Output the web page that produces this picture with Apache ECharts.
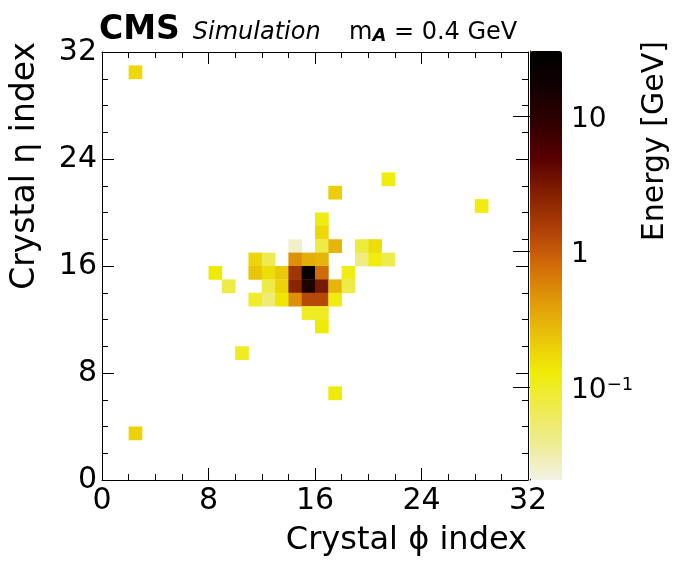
<!DOCTYPE html>
<html>
<head>
<meta charset="utf-8">
<script src="https://cdn.jsdelivr.net/npm/echarts@6/dist/echarts.min.js"></script>
<style>
html,body{margin:0;padding:0;background:#ffffff;}
#chart{width:676px;height:572px;}
</style>
</head>
<body>
<div id="chart"></div>
<script>
// ---- data (crystal phi index, crystal eta index, deposited energy in GeV) ----
const phiIndex = [2, 2, 21, 17, 28, 16, 16, 14, 16, 17, 19, 20, 11, 12, 14, 15, 16, 19, 20, 21, 8, 11, 12, 13, 14, 15, 16, 18, 9, 12, 13, 14, 15, 16, 17, 18, 11, 12, 13, 14, 15, 16, 17, 15, 16, 16, 10, 17];
const etaIndex = [30, 3, 22, 21, 20, 19, 18, 17, 17, 17, 17, 17, 16, 16, 16, 16, 16, 16, 16, 16, 15, 15, 15, 15, 15, 15, 15, 15, 14, 14, 14, 14, 14, 14, 14, 14, 13, 13, 13, 13, 13, 13, 13, 12, 12, 11, 9, 6];
const energyGeV = [0.17, 0.19, 0.12, 0.2, 0.12, 0.12, 0.17, 0.025, 0.075, 0.29, 0.08, 0.16, 0.18, 0.068, 0.49, 0.32, 0.29, 0.044, 0.12, 0.07, 0.13, 0.23, 0.16, 0.22, 1.8, 25, 0.8, 0.115, 0.075, 0.075, 0.19, 2.5, 13, 3.1, 0.29, 0.075, 0.095, 0.05, 0.14, 0.49, 1.3, 1.3, 0.12, 0.1, 0.1, 0.13, 0.1, 0.13];

// axis ranges / tick labels
const axisRange = [0, 32];
const axisTickLabels = [0, 8, 16, 24, 32];
const energyRange = [0.0204, 30.6];
const colorbarLabelValues = [0.1, 1, 10];
const colorbarMinorValues = [0.03, 0.04, 0.05, 0.06, 0.07, 0.08, 0.09, 0.2, 0.3, 0.4, 0.5, 0.6, 0.7, 0.8, 0.9, 2, 3, 4, 5, 6, 7, 8, 9, 20, 30];

// titles
const xTitle = 'Crystal \u03d5 index';
const yTitle = 'Crystal \u03b7 index';
const zTitle = 'Energy [GeV]';

// palette, low -> high energy
const paletteColors = ['#f3f2e6', '#eeec94', '#eeeb50', '#f0ec08', '#e9c40a', '#e09a08', '#d26c08', '#b04008', '#842000', '#580000', '#300000', '#120000', '#000000'];

const FONT = 'DejaVu Sans';
const logMin = Math.log10(energyRange[0]);
const logMax = Math.log10(energyRange[1]);

const cells = phiIndex.map((p, i) => [p, etaIndex[i], Math.log10(energyGeV[i])]);

const chart = echarts.init(document.getElementById('chart'), null, {renderer: 'canvas'});

function frameAxis(extra) {
  return Object.assign({
    type: 'value',
    gridIndex: 0,
    min: axisRange[0],
    max: axisRange[1],
    interval: axisTickLabels[1] - axisTickLabels[0],
    axisLine: {show: true, onZero: false, lineStyle: {color: '#000', width: 1}},
    axisTick: {show: true, inside: true, length: 12, lineStyle: {color: '#000', width: 1}},
    minorTick: {show: true, splitNumber: 4, length: 6, lineStyle: {color: '#000', width: 1}},
    splitLine: {show: false},
    minorSplitLine: {show: false},
    axisLabel: {show: false}
  }, extra);
}

const option = {
  animation: false,
  backgroundColor: '#ffffff',
  textStyle: {fontFamily: FONT, color: '#000'},
  title: [
    {
      left: 99, top: 14, padding: 0,
      text: '{cms|CMS}{sim|Simulation}',
      textStyle: {
        fontWeight: 'normal',
        rich: {
          cms: {fontFamily: FONT, fontWeight: 'bold', fontSize: 33, color: '#000', verticalAlign: 'bottom'},
          sim: {fontFamily: FONT, fontWeight: 'normal', fontStyle: 'italic', fontSize: 24, color: '#000', verticalAlign: 'bottom', padding: [0, 0, 2, 13]}
        }
      }
    },
    {
      left: 349, top: 21, padding: 0,
      text: '{n|m}{s|A}{n| = 0.4 GeV}',
      textStyle: {
        fontWeight: 'normal',
        rich: {
          n: {fontFamily: FONT, fontWeight: 'normal', fontSize: 24, color: '#000', verticalAlign: 'top', lineHeight: 24},
          s: {fontFamily: FONT, fontSize: 18, fontWeight: 'bold', fontStyle: 'italic', color: '#000', verticalAlign: 'bottom', lineHeight: 18, padding: [12, 0, 0, 0]}
        }
      }
    }
  ],
  graphic: [
    {type: 'text', x: 527, y: 541, silent: true,
     style: {text: xTitle, fontFamily: FONT, fontSize: 32, fill: '#000', align: 'right', verticalAlign: 'middle'}},
    {type: 'text', x: 25, y: 42, rotation: Math.PI / 2, silent: true,
     style: {text: yTitle, fontFamily: FONT, fontSize: 33, fill: '#000', align: 'right', verticalAlign: 'middle'}},
    {type: 'text', x: 655, y: 41, rotation: Math.PI / 2, silent: true,
     style: {text: zTitle, fontFamily: FONT, fontSize: 30, fill: '#000', align: 'right', verticalAlign: 'middle'}}
  ],
  grid: [
    {left: 102, top: 52, width: 426, height: 428, outerBoundsMode: 'none', containLabel: false},
    {left: 530, top: 51, width: 32, height: 429, outerBoundsMode: 'none', containLabel: false}
  ],
  xAxis: [
    frameAxis({
      position: 'bottom',
      axisLabel: {show: true, fontFamily: FONT, fontSize: 30, color: '#000', margin: 6, showMinLabel: true, showMaxLabel: true}
    }),
    frameAxis({position: 'top'}),
    {type: 'value', gridIndex: 1, show: false, min: 0, max: 1}
  ],
  yAxis: [
    frameAxis({
      position: 'left',
      axisLabel: {show: true, fontFamily: FONT, fontSize: 30, color: '#000', margin: 5, showMinLabel: true, showMaxLabel: true}
    }),
    frameAxis({position: 'right'}),
    {
      type: 'value', gridIndex: 1, position: 'right',
      min: logMin, max: logMax,
      axisLine: {show: true, lineStyle: {color: '#000', width: 1}},
      axisTick: {show: true, inside: true, length: 17, lineStyle: {color: '#000', width: 1},
                 customValues: colorbarLabelValues.map(v => Math.log10(v))},
      axisLabel: {
        show: true, margin: 9, color: '#000', fontFamily: FONT, fontSize: 28,
        padding: [7, 0, 0, 0],
        customValues: colorbarLabelValues.map(v => Math.log10(v)),
        formatter: function (v) {
          const e = Math.round(v);
          if (e === 0) return '{b|1}';
          if (e === 1) return '{b|10}';
          return '{b|10}{s|\u2212' + Math.abs(e) + '}';
        },
        rich: {
          b: {fontFamily: FONT, fontSize: 28, color: '#000', lineHeight: 28, verticalAlign: 'middle'},
          s: {fontFamily: FONT, fontSize: 18, color: '#000', lineHeight: 18, verticalAlign: 'top'}
        }
      },
      splitLine: {show: false}
    },
    {
      type: 'value', gridIndex: 1, position: 'right',
      min: logMin, max: logMax,
      axisLine: {show: false},
      axisTick: {show: true, inside: true, length: 9, lineStyle: {color: '#000', width: 1},
                 customValues: colorbarMinorValues.map(v => Math.log10(v))},
      axisLabel: {show: false},
      splitLine: {show: false}
    }
  ],
  visualMap: {
    type: 'continuous',
    seriesIndex: 0,
    dimension: 2,
    min: logMin,
    max: logMax,
    calculable: false,
    hoverLink: false,
    orient: 'vertical',
    left: 530,
    top: 51,
    padding: 0,
    itemWidth: 32,
    itemHeight: 429,
    text: null,
    showLabel: false,
    borderRadius: 0,
    inRange: {color: paletteColors}
  },
  series: [
    {
      type: 'custom',
      coordinateSystem: 'cartesian2d',
      xAxisIndex: 0,
      yAxisIndex: 0,
      encode: {x: 0, y: 1},
      data: cells,
      renderItem: function (params, api) {
        const x = api.value(0), y = api.value(1);
        const p0 = api.coord([x, y + 1]);
        const p1 = api.coord([x + 1, y]);
        return {
          type: 'rect',
          shape: {x: p0[0], y: p0[1], width: p1[0] - p0[0] + 0.4, height: p1[1] - p0[1] + 0.4},
          style: {fill: api.visual('color')}
        };
      }
    }
  ]
};

chart.setOption(option);
</script>
</body>
</html>
